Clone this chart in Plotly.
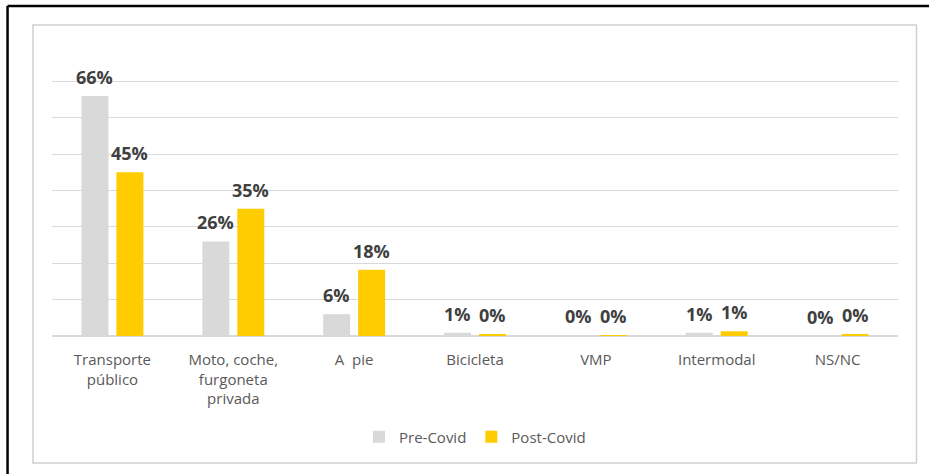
import plotly.graph_objects as go

# Modal share of trips, before and after Covid (%)
categories = ["Transporte<br>público", "Moto, coche,<br>furgoneta<br>privada", "A  pie",
              "Bicicleta", "VMP", "Intermodal", "NS/NC"]
pre_covid = [66, 26, 6, 0.9, 0.15, 0.9, 0.0]
post_covid = [45, 35, 18.2, 0.45, 0.15, 1.3, 0.45]
series_names = ["Pre-Covid", "Post-Covid"]

GREY = "#D9D9D9"
YELLOW = "#FFCC00"
TEXT = "#595959"
LABEL = "#404040"
FONT = "Open Sans, Noto Sans, sans-serif"

W, H = 929, 474
L, R, T, B = 51.5, 30.5, 45, 138
PW, PH = W - L - R, H - T - B


def px_x(p):
    return (p - L) / PW


def px_y(p):
    return (H - B - p) / PH


fig = go.Figure()
for name, vals, col in [(series_names[0], pre_covid, GREY), (series_names[1], post_covid, YELLOW)]:
    fig.add_trace(go.Bar(
        x=categories, y=vals, name=name, marker=dict(color=col, line=dict(width=0)),
        hoverinfo="skip",
    ))

# value labels above each bar
for vals, shift in [(pre_covid, -17.5), (post_covid, 17.5)]:
    for cat, v in zip(categories, vals):
        fig.add_annotation(
            x=cat, y=v, xref="x", yref="y", text=f"<b>{v:.0f}%</b>",
            showarrow=False, xshift=shift, yshift=5, yanchor="bottom",
            font=dict(family=FONT, size=18, color=LABEL),
        )

# chart frame and page border
fig.add_shape(type="rect", xref="paper", yref="paper",
              x0=px_x(32.5), x1=px_x(917), y0=px_y(463), y1=px_y(25),
              line=dict(color="#D0D0D0", width=1.5), fillcolor="rgba(0,0,0,0)", layer="below")
fig.add_shape(type="line", xref="paper", yref="paper",
              x0=px_x(7), x1=px_x(7), y0=px_y(6), y1=px_y(480),
              line=dict(color="black", width=2.5))
fig.add_shape(type="line", xref="paper", yref="paper",
              x0=px_x(7), x1=px_x(935), y0=px_y(6), y1=px_y(6),
              line=dict(color="black", width=2.5))

fig.update_layout(
    width=W, height=H,
    margin=dict(l=L, r=R, t=T, b=B, pad=0),
    paper_bgcolor="white", plot_bgcolor="white",
    barmode="group", bargap=0.421, bargroupgap=0.229,
    font=dict(family=FONT, size=15, color=TEXT),
    showlegend=True,
    legend=dict(orientation="h", x=0.5, xanchor="center", y=px_y(437), yanchor="middle",
                font=dict(family=FONT, size=15, color=TEXT), traceorder="normal",
                itemwidth=30),
    xaxis=dict(showgrid=False, showline=False, ticks="", tickfont=dict(size=15, color=TEXT),
               ticklabelstandoff=13),
    yaxis=dict(range=[0, 80], dtick=10, showticklabels=False, showgrid=True,
               gridcolor=GREY, gridwidth=1, zeroline=True, zerolinecolor=GREY,
               zerolinewidth=1.5, showline=False, ticks=""),
)

fig.write_html("out.html")
